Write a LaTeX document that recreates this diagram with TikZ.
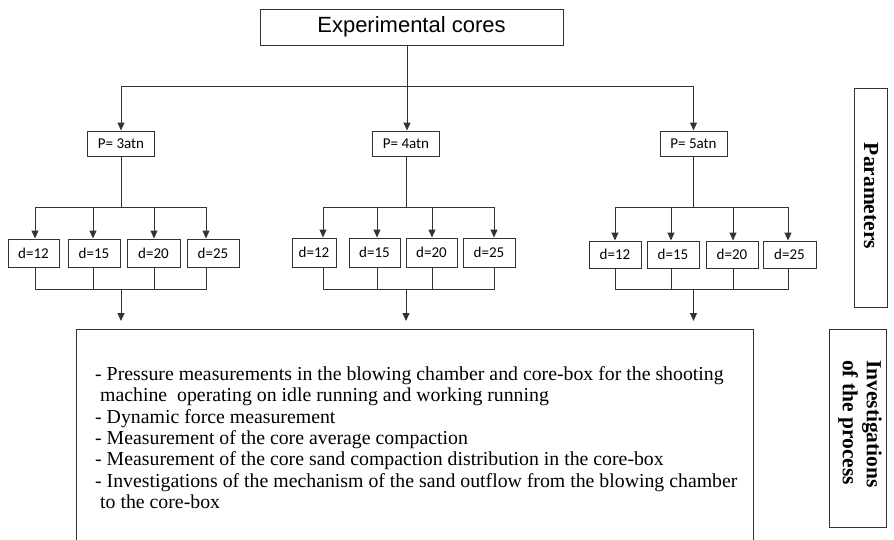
\documentclass[tikz,border=0pt]{standalone}
\usepackage{fontspec}
\setmainfont{Liberation Serif}
\newfontfamily\arialf{Liberation Sans}
\newfontfamily\calif{Carlito}
\usetikzlibrary{arrows.meta,calc}
\begin{document}
\begin{tikzpicture}[x=1pt,y=-1pt,
  ln/.style={draw=black!80,line width=1pt,line cap=rect},
  arr/.style={ln,-{Triangle[length=8pt,width=7pt]}},
  bx/.style={draw=black!80,line width=1pt,inner sep=0pt,align=center},
  pbox/.style={bx,minimum width=67pt,minimum height=25pt,font=\calif\fontsize{15}{18}\selectfont},
  dbox/.style={bx,font=\calif\fontsize{15}{18}\selectfont},
  lbl/.style={font=\bfseries\fontsize{21.5}{24}\selectfont,rotate=-90,align=left,inner sep=0pt},
  item/.style={anchor=base west,inner sep=0pt,font=\fontsize{19.8}{21.3}\selectfont}]
\useasboundingbox (0,0) rectangle (894,539);

% top box
\node[bx,minimum width=303pt,minimum height=36pt,font=\arialf\fontsize{22}{26}\selectfont] (top) at (411.5,27) {Experimental cores};

% pressure boxes
\node[pbox] (p1) at (121,143.5) {P= 3atn};
\node[pbox] (p2) at (406,143.5) {P= 4atn};
\node[pbox] (p3) at (693.5,143.5) {P= 5atn};

% d boxes group 1
\node[dbox,minimum width=51pt,minimum height=28pt] (d11) at (33.5,253) {d=12};
\node[dbox,minimum width=52pt,minimum height=28pt] (d12) at (94,253) {d=15};
\node[dbox,minimum width=53pt,minimum height=28pt] (d13) at (153.5,253) {d=20};
\node[dbox,minimum width=52pt,minimum height=28pt] (d14) at (213,253) {d=25};
% group 2
\node[dbox,minimum width=44pt,minimum height=29pt] (d21) at (314,252.5) {d=12};
\node[dbox,minimum width=51pt,minimum height=29pt] (d22) at (374.5,252.5) {d=15};
\node[dbox,minimum width=51pt,minimum height=29pt] (d23) at (431.5,252.5) {d=20};
\node[dbox,minimum width=52pt,minimum height=29pt] (d24) at (489,252.5) {d=25};
% group 3
\node[dbox,minimum width=52pt,minimum height=27pt] (d31) at (615,254.5) {d=12};
\node[dbox,minimum width=52pt,minimum height=27pt] (d32) at (673,254.5) {d=15};
\node[dbox,minimum width=52pt,minimum height=27pt] (d33) at (732,254.5) {d=20};
\node[dbox,minimum width=53pt,minimum height=27pt] (d34) at (789.5,254.5) {d=25};

% main box
\node[bx,minimum width=677pt,minimum height=212pt] (main) at (414.5,435) {};
\node[item] (l1) at (95,380) {- Pressure measurements in the blowing chamber and core-box for the shooting};
\node[item] (l2) at (100,401) {machine\ \ operating on idle running and working running};
\node[item] (l3) at (95,423) {- Dynamic force measurement};
\node[item] (l4) at (95,444) {- Measurement of the core average compaction};
\node[item] (l5) at (95,465) {- Measurement of the core sand compaction distribution in the core-box};
\node[item] (l6) at (95,487) {- Investigations of the mechanism of the sand outflow from the blowing chamber};
\node[item] (l7) at (100,508) {to the core-box};

% side labels
\node[bx,minimum width=33pt,minimum height=219pt] (parbox) at (870.5,197.5) {};
\node[lbl] (par) at (871,196) {Parameters};
\node[bx,minimum width=57pt,minimum height=198pt] (invbox) at (857.5,428) {};
\node[lbl] (inv) at (860,424) {Investigations\\of the process};

% top connectors
\coordinate (h) at (407,86);
\coordinate (hl) at (121,86);
\coordinate (hr) at (693.5,86);
\draw[ln] ([xshift=-4.5pt]top.south) -- (h);
\draw[ln] (hl) -- (hr);
\draw[arr] (hl) -- (p1.north);
\draw[arr] (h) -- (h |- p2.north);
\draw[arr] (hr) -- (p3.north);

% split / join coordinates
\coordinate (s1) at (121,207);
\coordinate (s2) at (406,207);
\coordinate (s3) at (693.5,207);
\coordinate (j1) at (121,289);
\coordinate (j2) at (406,289);
\coordinate (j3) at (693.5,289);
\coordinate (e1) at (121,321);
\coordinate (e2) at (406,321);
\coordinate (e3) at (693.5,321);

\foreach \g/\i/\cx in {1/1/35,1/2/93,1/3/154,1/4/206,
                       2/1/323,2/2/377,2/3/432,2/4/494,
                       3/1/615,3/2/671,3/3/733,3/4/788}{
  \coordinate (c\g\i) at (\cx,207);
  \draw[arr] (c\g\i) -- (c\g\i |- d\g\i.north);
  \draw[ln] (c\g\i |- d\g\i.south) -- (c\g\i |- j\g);
}
\foreach \g in {1,2,3}{
  \draw[ln] (p\g.south) -- (s\g);
  \draw[ln] (c\g1) -- (c\g4);
  \draw[ln] (c\g1 |- j\g) -- (c\g4 |- j\g);
  \draw[arr] (j\g) -- (e\g);
}
\end{tikzpicture}
\end{document}
